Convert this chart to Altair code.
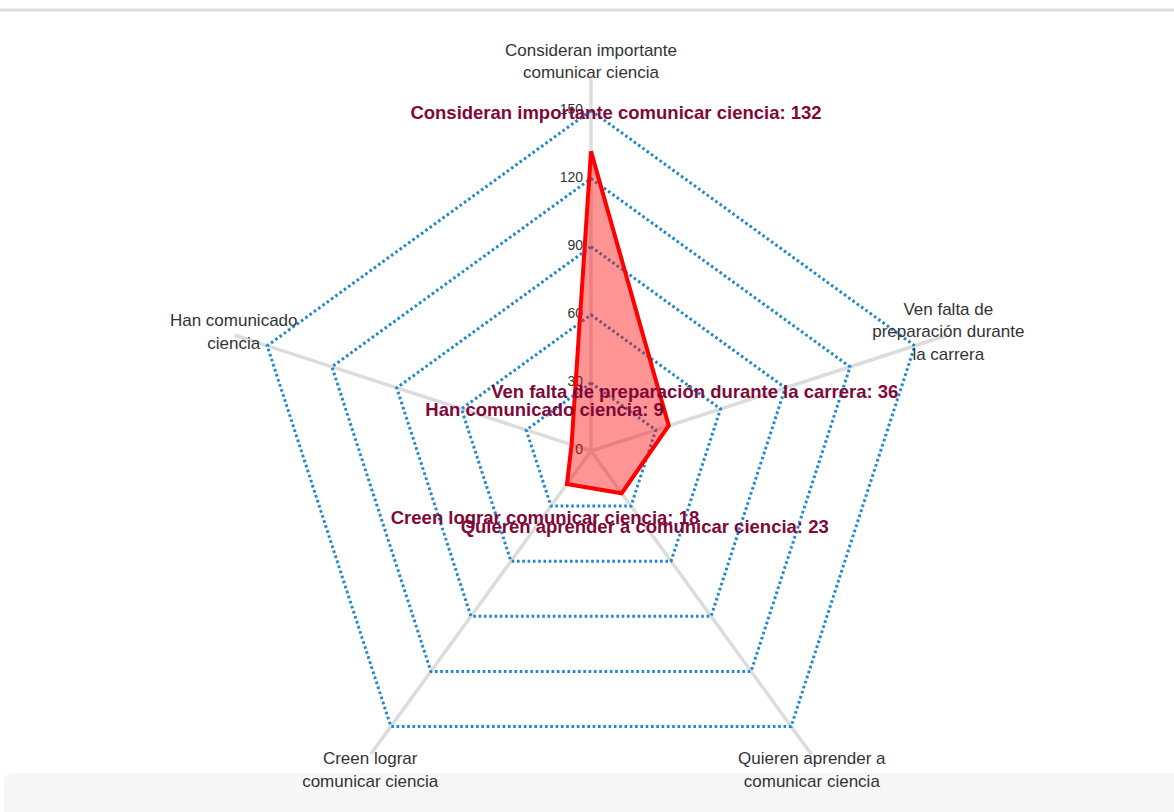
import altair as alt
import pandas as pd

# ---------------- data ----------------
categories = [
    "Consideran importante comunicar ciencia",
    "Ven falta de preparación durante la carrera",
    "Quieren aprender a comunicar ciencia",
    "Creen lograr comunicar ciencia",
    "Han comunicado ciencia",
]
axis_labels = [
    "Consideran importante\ncomunicar ciencia",
    "Ven falta de\npreparación durante\nla carrera",
    "Quieren aprender a\ncomunicar ciencia",
    "Creen lograr\ncomunicar ciencia",
    "Han comunicado\nciencia",
]
values = [132, 36, 23, 18, 9]
ring_levels = [30, 60, 90, 120, 150]
tick_values = [0, 30, 60, 90, 120, 150]

# ---------------- style ----------------
W, H = 1174, 812
CX, CY = 591, 451          # centre of the radar in pixels
PPU = 2.27                 # pixels per unit
AXIS_END = 165             # axis length in value units
LABEL_RX, LABEL_RY = 165.5, 172.5
LINE_H = 22.5
LABEL_SHIFT_PX = 2.5       # small downward nudge of the axis labels
N = len(categories)
BLUE = "#1f88cc"
GRID_GRAY = "#dcdcdc"
LABEL_COLOR = "#800838"
FONT = "Liberation Sans"
# pixel offsets of the value labels from their vertex
label_offsets = [(25, -38), (26, -34), (23, 34), (-22, 34), (-27, -35)]

xscale = alt.Scale(domain=[-CX / PPU, (W - CX) / PPU], nice=False, zero=False)
yscale = alt.Scale(domain=[-(H - CY) / PPU, CY / PPU], nice=False, zero=False)

def X(f):
    return alt.X(f, type="quantitative", scale=xscale, axis=None)

def Y(f):
    return alt.Y(f, type="quantitative", scale=yscale, axis=None)

angle = f"datum.idx * 2 * PI / {N}"

# ---------------- tables ----------------
cat_df = pd.DataFrame({
    "idx": list(range(N)),
    "category": categories,
    "axis_label": axis_labels,
    "nlines": [len(s.split("\n")) for s in axis_labels],
    "value": values,
    "vlabel": [f"{c}: {v}" for c, v in zip(categories, values)],
})
ring_df = pd.DataFrame([{"level": l, "idx": i} for l in ring_levels for i in range(N)])
tick_df = pd.DataFrame({"level": tick_values, "text": [str(t) for t in tick_values]})
one = pd.DataFrame({"k": [0]})

# ---------------- layers ----------------
top_rule = alt.Chart(one).mark_rule(color="#dedede", strokeWidth=3).encode(
    x=alt.value(0), x2=alt.value(W), y=alt.value(10)
)
bottom_band = alt.Chart(one).mark_rect(color="#f7f7f7", cornerRadiusTopLeft=8).encode(
    x=alt.value(4), x2=alt.value(W), y=alt.value(773), y2=alt.value(H)
)

axes_lines = (
    alt.Chart(cat_df)
    .transform_calculate(a=angle)
    .transform_calculate(
        x0="0", y0="0",
        x1=f"{AXIS_END} * sin(datum.a)", y1=f"{AXIS_END} * cos(datum.a)",
    )
    .mark_rule(color=GRID_GRAY, strokeWidth=3.5)
    .encode(x=X("x0"), y=Y("y0"), x2="x1:Q", y2="y1:Q")
)

rings = (
    alt.Chart(ring_df)
    .transform_calculate(a=angle)
    .transform_calculate(x="datum.level * sin(datum.a)", y="datum.level * cos(datum.a)")
    .mark_line(interpolate="linear-closed", stroke=BLUE, strokeWidth=3,
               strokeDash=[2.6, 2.7])
    .encode(x=X("x"), y=Y("y"), detail="level:N", order="idx:Q")
)

ticks = (
    alt.Chart(tick_df)
    .transform_calculate(x="0")
    .mark_text(align="right", baseline="middle", dx=-8, dy=-1, fontSize=14,
               font=FONT, color="#333333")
    .encode(x=X("x"), y=Y("level"), text="text:N")
)

polygon = (
    alt.Chart(cat_df)
    .transform_calculate(a=angle)
    .transform_calculate(x="datum.value * sin(datum.a)", y="datum.value * cos(datum.a)")
    .mark_line(interpolate="linear-closed", stroke="#ff0000", strokeWidth=4,
               fill="#ff0000", fillOpacity=0.42, strokeJoin="miter")
    .encode(x=X("x"), y=Y("y"), order="idx:Q")
)

axis_text = (
    alt.Chart(cat_df)
    .transform_calculate(a=angle)
    .transform_calculate(
        x=f"{LABEL_RX} * sin(datum.a)",
        y=f"{LABEL_RY} * cos(datum.a) + (datum.nlines - 1) * {LINE_H / 2 / PPU}",
    )
    .mark_text(align="center", baseline="middle", fontSize=17, lineHeight=LINE_H,
               font=FONT, color="#333333", lineBreak="\n", dy=LABEL_SHIFT_PX)
    .encode(x=X("x"), y=Y("y"), text="axis_label:N")
)

value_texts = []
for i, (dx, dy) in enumerate(label_offsets):
    value_texts.append(
        alt.Chart(cat_df)
        .transform_filter(f"datum.idx == {i}")
        .transform_calculate(a=angle)
        .transform_calculate(x="datum.value * sin(datum.a)", y="datum.value * cos(datum.a)")
        .mark_text(align="center", baseline="middle", dx=dx, dy=dy, fontSize=18.5,
                   fontWeight="bold", font=FONT, color=LABEL_COLOR)
        .encode(x=X("x"), y=Y("y"), text="vlabel:N")
    )

chart = (
    alt.layer(top_rule, bottom_band, axes_lines, rings, ticks, polygon, axis_text,
              *value_texts)
    .properties(width=W, height=H, autosize=alt.AutoSizeParams(type="none"),
                padding=0, background="white")
    .configure_view(stroke=None)
)

chart.save("out.html", embed_options={"renderer": "svg", "actions": False})
